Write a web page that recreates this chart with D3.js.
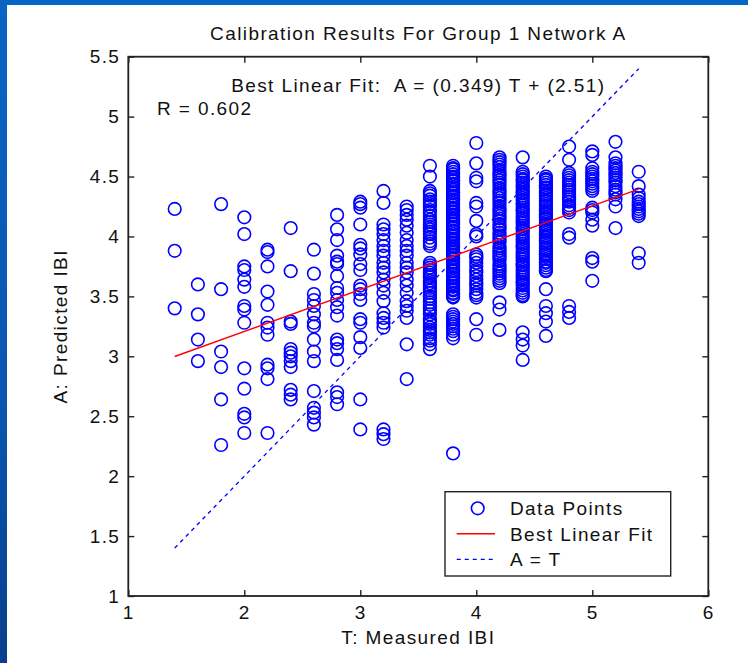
<!DOCTYPE html>
<html>
<head>
<meta charset="utf-8">
<script src="https://cdnjs.cloudflare.com/ajax/libs/d3/7.8.5/d3.min.js"></script>
<style>
  body { margin: 0; background: #fff; }
  svg { display: block; }
  text { font-family: "Liberation Sans", Arial, sans-serif; fill: #111; letter-spacing: 1.4px; }
</style>
</head>
<body>
<div class="chart"></div>
<script>
// measured IBI levels (T) and the predicted values (A)
const measuredIBI = [1.4, 1.6, 1.8, 2.0, 2.2, 2.4, 2.6, 2.8, 3.0, 3.2, 3.4, 3.6, 3.8, 4.0, 4.2, 4.4, 4.6, 4.8, 5.0, 5.2, 5.4];
const predictedIBI = [
  [4.23, 3.88, 3.40],
  [3.60, 3.35, 3.14, 2.96],
  [4.27, 3.56, 3.04, 2.91, 2.64, 2.26],
  [4.16, 4.02, 3.75, 3.72, 3.64, 3.58, 3.42, 3.39, 3.28, 2.90, 2.73, 2.52, 2.49, 2.36],
  [3.89, 3.87, 3.75, 3.54, 3.43, 3.28, 3.24, 3.18, 2.93, 2.90, 2.81, 2.36],
  [4.07, 3.71, 3.29, 3.27, 3.06, 3.03, 3.00, 2.96, 2.91, 2.72, 2.68, 2.64],
  [3.89, 3.69, 3.52, 3.47, 3.42, 3.35, 3.28, 3.25, 3.14, 3.04, 2.96, 2.71, 2.57, 2.53, 2.49, 2.43],
  [4.18, 4.06, 3.97, 3.84, 3.79, 3.77, 3.67, 3.57, 3.53, 3.47, 3.41, 3.34, 3.14, 3.11, 3.06, 2.97, 2.70, 2.66, 2.60],
  [4.29, 4.27, 4.24, 4.10, 3.93, 3.90, 3.85, 3.77, 3.72, 3.59, 3.56, 3.52, 3.47, 3.31, 3.28, 3.16, 3.07, 2.64, 2.39],
  [4.38, 4.28, 4.10, 4.06, 4.02, 3.97, 3.92, 3.88, 3.84, 3.78, 3.74, 3.70, 3.64, 3.59, 3.53, 3.46, 3.36, 3.32, 3.28, 3.24, 2.39, 2.35, 2.31],
  [4.25, 4.22, 4.18, 4.14, 4.09, 4.03, 3.97, 3.92, 3.88, 3.84, 3.78, 3.74, 3.70, 3.64, 3.59, 3.53, 3.46, 3.42, 3.38, 3.32, 3.10, 2.81],
  [4.59, 4.50, 4.38, 4.36, 4.34, 4.31, 4.29, 4.27, 4.25, 4.22, 4.20, 4.17, 4.14, 4.12, 4.10, 4.08, 4.06, 4.04, 4.02, 3.99, 3.96, 3.94, 3.92,
   3.78, 3.76, 3.74, 3.72, 3.70, 3.68, 3.66, 3.63, 3.61, 3.59, 3.57, 3.55, 3.53, 3.50, 3.48, 3.45, 3.43, 3.40, 3.38, 3.35, 3.31, 3.29, 3.27,
   3.24, 3.22, 3.20, 3.18, 3.15, 3.13, 3.10, 3.06],
  [4.59, 4.57, 4.56, 4.54, 4.52, 4.50, 4.49, 4.47, 4.46, 4.44, 4.43, 4.41, 4.39, 4.37, 4.36, 4.34, 4.33, 4.31, 4.30, 4.28, 4.26, 4.24,
   4.23, 4.21, 4.20, 4.18, 4.17, 4.15, 4.13, 4.11, 4.10, 4.08, 4.07, 4.05, 4.04, 4.02, 4.00, 3.98, 3.97, 3.95, 3.94, 3.92, 3.91, 3.89,
   3.87, 3.85, 3.84, 3.82, 3.81, 3.79, 3.78, 3.76, 3.74, 3.72, 3.71, 3.69, 3.68, 3.66, 3.65, 3.63, 3.61, 3.59, 3.58, 3.56, 3.55, 3.53,
   3.52, 3.50, 3.49, 3.35, 3.33, 3.31, 3.29, 3.27, 3.25, 3.23, 3.21, 3.18, 3.15, 2.19],
  [4.78, 4.61, 4.49, 4.46, 4.28, 4.25, 4.13, 4.02, 4.00, 3.85, 3.83, 3.81, 3.78, 3.75, 3.72, 3.70, 3.67, 3.64, 3.61, 3.59, 3.56, 3.53,
   3.51, 3.49, 3.31, 3.18],
  [4.66, 4.64, 4.62, 4.60, 4.58, 4.55, 4.53, 4.51, 4.49, 4.47, 4.45, 4.43, 4.40, 4.38, 4.36, 4.34, 4.32, 4.30, 4.28, 4.25, 4.23, 4.21,
   4.19, 4.17, 4.15, 4.13, 4.10, 4.08, 4.06, 4.03, 4.01, 3.99, 3.97, 3.95, 3.92, 3.90, 3.88, 3.86, 3.84, 3.82, 3.80, 3.77, 3.75, 3.73,
   3.71, 3.69, 3.67, 3.65, 3.63, 3.61, 3.45, 3.39, 3.22],
  [4.66, 4.54, 4.52, 4.50, 4.48, 4.47, 4.45, 4.43, 4.41, 4.39, 4.37, 4.36, 4.34, 4.32, 4.30, 4.28, 4.26, 4.24, 4.22, 4.21, 4.19, 4.17,
   4.15, 4.13, 4.11, 4.09, 4.07, 4.06, 4.04, 4.02, 4.00, 3.98, 3.96, 3.94, 3.92, 3.91, 3.89, 3.87, 3.85, 3.83, 3.81, 3.79, 3.77, 3.76,
   3.74, 3.72, 3.70, 3.68, 3.66, 3.64, 3.62, 3.61, 3.59, 3.57, 3.55, 3.53, 3.51, 3.50, 3.20, 3.14, 3.09, 2.97],
  [4.50, 4.48, 4.47, 4.45, 4.43, 4.41, 4.40, 4.38, 4.36, 4.34, 4.32, 4.30, 4.29, 4.27, 4.25, 4.23, 4.21, 4.19, 4.18, 4.16, 4.14, 4.12,
   4.10, 4.09, 4.07, 4.05, 4.03, 4.01, 3.99, 3.97, 3.96, 3.94, 3.92, 3.90, 3.88, 3.86, 3.85, 3.83, 3.81, 3.79, 3.78, 3.76, 3.74, 3.72,
   3.71, 3.56, 3.42, 3.36, 3.29, 3.17],
  [4.75, 4.64, 4.53, 4.51, 4.49, 4.47, 4.45, 4.43, 4.41, 4.39, 4.37, 4.35, 4.33, 4.31, 4.29, 4.26, 4.24, 4.22, 4.20, 4.02, 3.99, 3.42,
   3.37, 3.32],
  [4.71, 4.68, 4.57, 4.54, 4.52, 4.50, 4.48, 4.46, 4.44, 4.42, 4.40, 4.38, 4.24, 4.22, 4.20, 4.14, 4.09, 3.82, 3.79, 3.63],
  [4.79, 4.66, 4.61, 4.59, 4.57, 4.55, 4.53, 4.51, 4.49, 4.47, 4.45, 4.42, 4.39, 4.37, 4.35, 4.31, 4.25, 4.07],
  [4.54, 4.42, 4.35, 4.32, 4.29, 4.27, 4.25, 4.23, 4.21, 4.19, 4.17, 3.86, 3.78]
];

// best linear fit A = slope * T + intercept, drawn over the measured range
const fitSlope = 0.349;
const fitIntercept = 2.51;
const fitRange = [1.4, 5.4];
const rValue = 0.602;

const xTicks = [1, 2, 3, 4, 5, 6];
const yTicks = [1, 1.5, 2, 2.5, 3, 3.5, 4, 4.5, 5, 5.5];
const legendLabels = ["Data Points", "Best Linear Fit", "A = T"];

const width = 748, height = 663;
const plotLeft = 128.3, plotRight = 708.3, plotTop = 56.7, plotBottom = 596;

const svg = d3.select(".chart").append("svg")
  .attr("width", width)
  .attr("height", height);

// slide frame: blue strip on top and a darker gradient strip at the left
const defs = svg.append("defs");
const grad = defs.append("linearGradient")
  .attr("id", "edge")
  .attr("x1", 0).attr("y1", 0).attr("x2", 0).attr("y2", 1);
grad.append("stop").attr("offset", "0%").attr("stop-color", "#0a64c4");
grad.append("stop").attr("offset", "60%").attr("stop-color", "#0a56b0");
grad.append("stop").attr("offset", "100%").attr("stop-color", "#083f8c");

svg.append("rect").attr("width", width).attr("height", height).attr("fill", "#fff");
svg.append("rect").attr("width", width).attr("height", 5).attr("fill", "#0565c8");
svg.append("rect").attr("width", 7).attr("height", height).attr("fill", "url(#edge)");

const x = d3.scaleLinear().domain([1, 6]).range([plotLeft, plotRight]);
const y = d3.scaleLinear().domain([1, 5.5]).range([plotBottom, plotTop]);

const points = measuredIBI.flatMap((t, i) => predictedIBI[i].map(a => ({ t, a })));

// data points
svg.append("g")
  .selectAll("circle")
  .data(points)
  .enter()
  .append("circle")
  .attr("cx", d => x(d.t))
  .attr("cy", d => y(d.a))
  .attr("r", 6.3)
  .attr("fill", "none")
  .attr("stroke", "#0000ff")
  .attr("stroke-width", 1.6);

// A = T reference line
svg.append("line")
  .attr("x1", x(fitRange[0])).attr("y1", y(fitRange[0]))
  .attr("x2", x(fitRange[1])).attr("y2", y(fitRange[1]))
  .attr("stroke", "#0000ff")
  .attr("stroke-width", 1.3)
  .attr("stroke-dasharray", "4,4");

// best linear fit
svg.append("line")
  .attr("x1", x(fitRange[0])).attr("y1", y(fitSlope * fitRange[0] + fitIntercept))
  .attr("x2", x(fitRange[1])).attr("y2", y(fitSlope * fitRange[1] + fitIntercept))
  .attr("stroke", "#ff0000")
  .attr("stroke-width", 1.4);

// axes with inside ticks on all four sides
const tickLen = 6;
const axisStyle = g => {
  g.select(".domain").remove();
  g.selectAll(".tick line").attr("stroke", "#222").attr("stroke-width", 1.4);
  g.selectAll(".tick text").attr("fill", "#111").style("font-size", "19px");
};

svg.append("g")
  .attr("transform", `translate(0,${plotBottom})`)
  .call(d3.axisBottom(x).tickValues(xTicks).tickFormat(d3.format("")).tickSize(-tickLen).tickPadding(10))
  .call(axisStyle)
  .selectAll(".tick text").attr("dy", "0.71em").attr("y", 10);

svg.append("g")
  .attr("transform", `translate(0,${plotTop})`)
  .call(d3.axisTop(x).tickValues(xTicks).tickFormat("").tickSize(-tickLen))
  .call(axisStyle);

svg.append("g")
  .attr("transform", `translate(${plotLeft},0)`)
  .call(d3.axisLeft(y).tickValues(yTicks).tickFormat(d3.format("")).tickSize(-tickLen).tickPadding(8))
  .call(axisStyle);

svg.append("g")
  .attr("transform", `translate(${plotRight},0)`)
  .call(d3.axisRight(y).tickValues(yTicks).tickFormat("").tickSize(-tickLen))
  .call(axisStyle);

svg.append("rect")
  .attr("x", plotLeft).attr("y", plotTop)
  .attr("width", plotRight - plotLeft).attr("height", plotBottom - plotTop)
  .attr("fill", "none")
  .attr("stroke", "#222")
  .attr("stroke-width", 1.8);

// titles and annotations
const midX = (plotLeft + plotRight) / 2;
svg.append("text")
  .attr("x", midX).attr("y", 40)
  .attr("text-anchor", "middle")
  .style("font-size", "19px")
  .text("Calibration Results For Group 1 Network A");

svg.append("text")
  .attr("x", midX).attr("y", 92)
  .attr("text-anchor", "middle")
  .style("font-size", "19px")
  .style("white-space", "pre")
  .text(`Best Linear Fit:  A = (${fitSlope}) T + (${fitIntercept})`);

svg.append("text")
  .attr("x", 157).attr("y", 115)
  .style("font-size", "19px")
  .text(`R = ${rValue}`);

svg.append("text")
  .attr("x", midX).attr("y", 644)
  .attr("text-anchor", "middle")
  .style("font-size", "19px")
  .text("T: Measured IBI");

svg.append("text")
  .attr("transform", `translate(67,${(plotTop + plotBottom) / 2}) rotate(-90)`)
  .attr("text-anchor", "middle")
  .style("font-size", "19px")
  .text("A: Predicted IBI");

// legend
const legend = svg.append("g").attr("transform", "translate(445,491.7)");
legend.append("rect")
  .attr("width", 225.7).attr("height", 84.3)
  .attr("fill", "#fff")
  .attr("stroke", "#222")
  .attr("stroke-width", 1.4);

const rowY = i => 16.6 + i * 25.5;
legendLabels.forEach((label, i) => {
  legend.append("text")
    .attr("x", 65).attr("y", rowY(i) + 7)
    .style("font-size", "19px")
    .text(label);
});
legend.append("circle")
  .attr("cx", 32.7).attr("cy", rowY(0))
  .attr("r", 6.3)
  .attr("fill", "none").attr("stroke", "#0000ff").attr("stroke-width", 1.6);
legend.append("line")
  .attr("x1", 11.7).attr("x2", 50).attr("y1", rowY(1)).attr("y2", rowY(1))
  .attr("stroke", "#ff0000").attr("stroke-width", 1.4);
legend.append("line")
  .attr("x1", 11.7).attr("x2", 50).attr("y1", rowY(2)).attr("y2", rowY(2))
  .attr("stroke", "#0000ff").attr("stroke-width", 1.3).attr("stroke-dasharray", "4,4");
</script>
</body>
</html>
